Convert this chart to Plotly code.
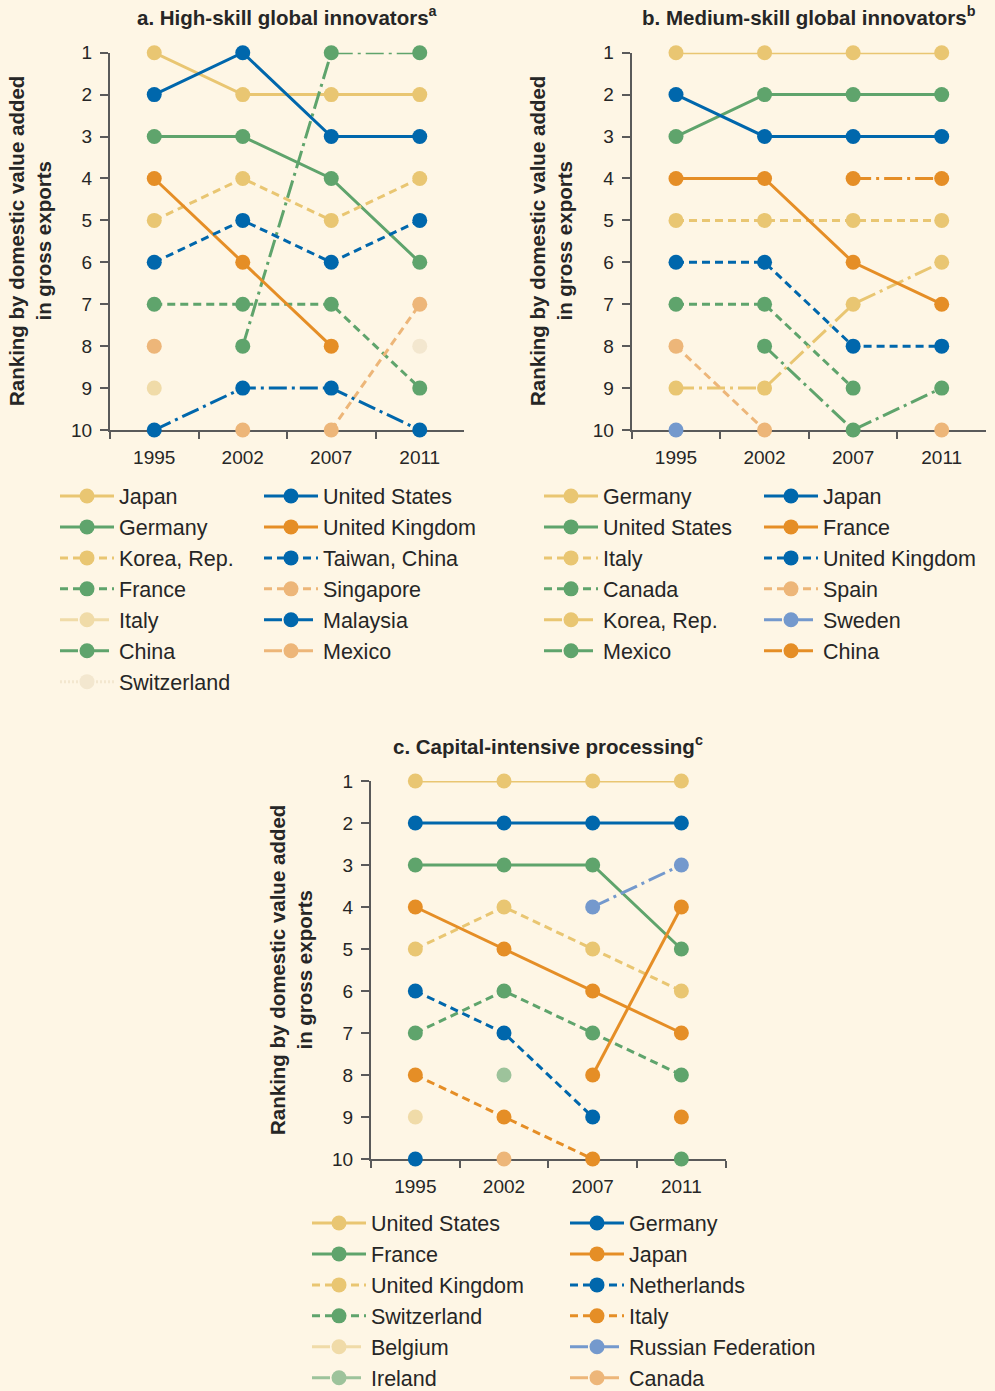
import plotly.graph_objects as go

W, H = 995, 1391
FONT = "Liberation Sans, Arial, sans-serif"
TEXT = "#262626"
AXIS = "#5a5a5a"
BG = "#FEF6E5"

GOLD = "#E9C672"
BLUE = "#0067AC"
GREEN = "#5FA46C"
ORANGE = "#E58E26"
LORANGE = "#EDB679"
PALEGOLD = "#F0DBA8"
VPALE = "#F3E7CF"
LBLUE = "#7499CD"
PALEGREEN = "#9DC39B"

SOLID = "solid"
DASH = "8px,5px"
DASHDOT = "18px,5px,3px,5px"
DOT = "2px,2px"

YEARS = ["1995", "2002", "2007", "2011"]
RANK_TICKS = [1, 2, 3, 4, 5, 6, 7, 8, 9, 10]

# a. High-skill global innovators (rank per year, None = not in top 10)
HS_JAPAN = [1, 2, 2, 2]
HS_GERMANY = [3, 3, 4, 6]
HS_KOREA = [5, 4, 5, 4]
HS_FRANCE = [7, 7, 7, 9]
HS_ITALY = [9, None, None, None]
HS_CHINA = [None, 8, 1, 1]
HS_SWITZERLAND = [None, None, None, 8]
HS_US = [2, 1, 3, 3]
HS_UK = [4, 6, 8, None]
HS_TAIWAN = [6, 5, 6, 5]
HS_SINGAPORE = [8, None, 10, 7]
HS_MALAYSIA = [10, 9, 9, 10]
HS_MEXICO = [None, 10, None, None]

# b. Medium-skill global innovators
MS_GERMANY = [1, 1, 1, 1]
MS_US = [3, 2, 2, 2]
MS_ITALY = [5, 5, 5, 5]
MS_CANADA = [7, 7, 9, None]
MS_KOREA = [9, 9, 7, 6]
MS_MEXICO = [None, 8, 10, 9]
MS_JAPAN = [2, 3, 3, 3]
MS_FRANCE = [4, 4, 6, 7]
MS_UK = [6, 6, 8, 8]
MS_SPAIN = [8, 10, None, 10]
MS_SWEDEN = [10, None, None, None]
MS_CHINA = [None, None, 4, 4]

# c. Capital-intensive processing
CI_US = [1, 1, 1, 1]
CI_FRANCE = [3, 3, 3, 5]
CI_UK = [5, 4, 5, 6]
CI_SWITZERLAND = [7, 6, 7, 8]
CI_BELGIUM = [9, None, None, None]
CI_IRELAND = [None, 8, None, None]
CI_GERMANY = [2, 2, 2, 2]
CI_JAPAN = [4, 5, 6, 7]
CI_NETHERLANDS = [6, 7, 9, None]
CI_ITALY = [8, 9, 10, None]
CI_RUSSIA = [None, None, 4, 3]
CI_CANADA = [None, 10, None, None]
# entries whose legend rows fall below the visible picture
CI_OTHER_BLUE = [10, None, None, None]
CI_OTHER_ORANGE_LINE = [None, None, 8, 4]
CI_OTHER_ORANGE = [None, None, None, 9]
CI_OTHER_GREEN = [None, None, None, 10]

panels = [
    ("x", "y", [
        ("Japan", HS_JAPAN, GOLD, SOLID, "legend"),
        ("Germany", HS_GERMANY, GREEN, SOLID, "legend"),
        ("Korea, Rep.", HS_KOREA, GOLD, DASH, "legend"),
        ("France", HS_FRANCE, GREEN, DASH, "legend"),
        ("Italy", HS_ITALY, PALEGOLD, DASHDOT, "legend"),
        ("China", HS_CHINA, GREEN, DASHDOT, "legend"),
        ("Switzerland", HS_SWITZERLAND, VPALE, DOT, "legend"),
        ("United States", HS_US, BLUE, SOLID, "legend2"),
        ("United Kingdom", HS_UK, ORANGE, SOLID, "legend2"),
        ("Taiwan, China", HS_TAIWAN, BLUE, DASH, "legend2"),
        ("Singapore", HS_SINGAPORE, LORANGE, DASH, "legend2"),
        ("Malaysia", HS_MALAYSIA, BLUE, DASHDOT, "legend2"),
        ("Mexico", HS_MEXICO, LORANGE, DASHDOT, "legend2"),
    ]),
    ("x2", "y2", [
        ("Germany", MS_GERMANY, GOLD, SOLID, "legend3"),
        ("United States", MS_US, GREEN, SOLID, "legend3"),
        ("Italy", MS_ITALY, GOLD, DASH, "legend3"),
        ("Canada", MS_CANADA, GREEN, DASH, "legend3"),
        ("Korea, Rep.", MS_KOREA, GOLD, DASHDOT, "legend3"),
        ("Mexico", MS_MEXICO, GREEN, DASHDOT, "legend3"),
        ("Japan", MS_JAPAN, BLUE, SOLID, "legend4"),
        ("France", MS_FRANCE, ORANGE, SOLID, "legend4"),
        ("United Kingdom", MS_UK, BLUE, DASH, "legend4"),
        ("Spain", MS_SPAIN, LORANGE, DASH, "legend4"),
        ("Sweden", MS_SWEDEN, LBLUE, DASHDOT, "legend4"),
        ("China", MS_CHINA, ORANGE, DASHDOT, "legend4"),
    ]),
    ("x3", "y3", [
        ("United States", CI_US, GOLD, SOLID, "legend5"),
        ("France", CI_FRANCE, GREEN, SOLID, "legend5"),
        ("United Kingdom", CI_UK, GOLD, DASH, "legend5"),
        ("Switzerland", CI_SWITZERLAND, GREEN, DASH, "legend5"),
        ("Belgium", CI_BELGIUM, PALEGOLD, DASHDOT, "legend5"),
        ("Ireland", CI_IRELAND, PALEGREEN, DASHDOT, "legend5"),
        ("Germany", CI_GERMANY, BLUE, SOLID, "legend6"),
        ("Japan", CI_JAPAN, ORANGE, SOLID, "legend6"),
        ("Netherlands", CI_NETHERLANDS, BLUE, DASH, "legend6"),
        ("Italy", CI_ITALY, ORANGE, DASH, "legend6"),
        ("Russian Federation", CI_RUSSIA, LBLUE, DASHDOT, "legend6"),
        ("Canada", CI_CANADA, LORANGE, DASHDOT, "legend6"),
        ("other", CI_OTHER_BLUE, BLUE, SOLID, None),
        ("other", CI_OTHER_ORANGE_LINE, ORANGE, SOLID, None),
        ("other", CI_OTHER_ORANGE, ORANGE, SOLID, None),
        ("other", CI_OTHER_GREEN, GREEN, SOLID, None),
    ]),
]

fig = go.Figure()

for xa, ya, series in panels:
    for name, ranks, color, dash, leg in series:
        fig.add_trace(go.Scatter(
            x=YEARS, y=ranks, name=name, xaxis=xa, yaxis=ya,
            mode="lines+markers", cliponaxis=False,
            line=dict(color=color, width=3, dash=dash),
            marker=dict(color=color, size=15),
            legend=leg if leg else "legend",
            showlegend=leg is not None,
        ))


def px_x(v):
    return v / W


def px_y(v):
    return 1 - v / H


def x_axis(left, right, anchor):
    return dict(
        domain=[px_x(left), px_x(right)], anchor=anchor,
        type="category", categoryorder="array", categoryarray=YEARS,
        range=[-0.5, 3.5], tickson="boundaries",
        ticks="outside", ticklen=7, tickwidth=1.5, tickcolor=AXIS,
        ticklabelstandoff=9,
        showline=True, linecolor=AXIS, linewidth=2,
        showgrid=False, zeroline=False, layer="below traces",
        tickfont=dict(family=FONT, size=19, color=TEXT), fixedrange=True,
    )


def y_axis(top, bottom, anchor):
    return dict(
        domain=[px_y(bottom), px_y(top)], anchor=anchor,
        range=[10, 1], tickvals=RANK_TICKS,
        ticks="outside", ticklen=8, tickwidth=1.5, tickcolor=AXIS,
        ticklabelstandoff=4,
        showline=True, linecolor=AXIS, linewidth=2,
        showgrid=False, zeroline=False, layer="below traces",
        tickfont=dict(family=FONT, size=19, color=TEXT), fixedrange=True,
    )


def legend_box(left, top):
    return dict(
        x=px_x(left), y=px_y(top), xanchor="left", yanchor="top",
        bgcolor="rgba(0,0,0,0)", borderwidth=0, itemwidth=54,
        traceorder="normal", tracegroupgap=0,
        font=dict(family=FONT, size=21.5, color=TEXT),
    )


fig.update_layout(
    width=W, height=H,
    margin=dict(l=0, r=0, t=0, b=0, autoexpand=False),
    paper_bgcolor=BG, plot_bgcolor=BG,
    xaxis=x_axis(110, 464, "y"), yaxis=y_axis(52.7, 430, "x"),
    xaxis2=x_axis(631.7, 986, "y2"), yaxis2=y_axis(52.7, 430, "x2"),
    xaxis3=x_axis(371, 725.7, "y3"), yaxis3=y_axis(781, 1159, "x3"),
    legend=legend_box(55, 475.5), legend2=legend_box(259, 475.5),
    legend3=legend_box(539, 475.5), legend4=legend_box(759, 475.5),
    legend5=legend_box(307, 1202.5), legend6=legend_box(565, 1202.5),
    hovermode="closest",
)

titles = [
    ("a. High-skill global innovators<sup>a</sup>", 287, 16),
    ("b. Medium-skill global innovators<sup>b</sup>", 809, 16),
    ("c. Capital-intensive processing<sup>c</sup>", 548, 745),
]
for text, cx, cy in titles:
    fig.add_annotation(
        text=f"<b>{text}</b>", x=px_x(cx), y=px_y(cy), xref="paper", yref="paper",
        xanchor="center", yanchor="middle", showarrow=False,
        font=dict(family=FONT, size=20.5, color=TEXT),
    )

ytitle = "<b>Ranking by domestic value added<br>in gross exports</b>"
for cx, cy in [(30, 241), (551, 241), (291, 970)]:
    fig.add_annotation(
        text=ytitle, x=px_x(cx), y=px_y(cy), xref="paper", yref="paper",
        xanchor="center", yanchor="middle", showarrow=False, textangle=-90,
        font=dict(family=FONT, size=20.5, color=TEXT),
    )

fig.write_html(
    "out.html",
    config={"displayModeBar": False},
    post_script="document.body.style.margin='0';",
)
